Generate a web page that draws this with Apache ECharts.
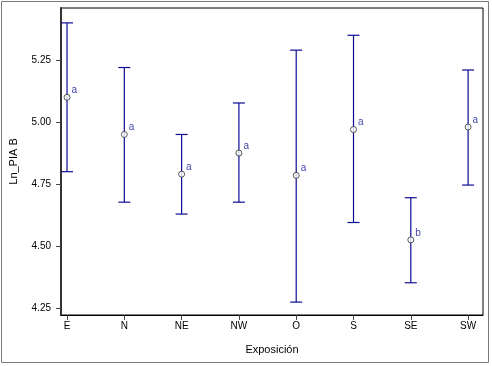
<!DOCTYPE html>
<html>
<head>
<meta charset="utf-8">
<script src="https://cdn.jsdelivr.net/npm/echarts@6/dist/echarts.min.js"></script>
<style>
    html, body {margin: 0; padding: 0; background: #fff;}
    #chart {width: 492px; height: 366px;}
</style>
</head>
<body>
<div id="chart"></div>
<script>
    // categorías y valores
    const categories = ['E', 'N', 'NE', 'NW', 'O', 'S', 'SE', 'SW'];
    const means = [5.10, 4.95, 4.79, 4.875, 4.785, 4.97, 4.525, 4.98];
    const upper = [5.40, 5.22, 4.95, 5.077, 5.29, 5.35, 4.695, 5.21];
    const lower = [4.80, 4.677, 4.629, 4.677, 4.274, 4.595, 4.352, 4.746];
    const groups = ['a', 'a', 'a', 'a', 'a', 'a', 'b', 'a'];
    const yTicks = [4.25, 4.50, 4.75, 5.00, 5.25];

    const blue = '#0c0c96';
    const chart = echarts.init(document.getElementById('chart'));

    const barData = categories.map((c, i) => [i, lower[i], upper[i]]);
    const meanData = categories.map((c, i) => ({value: [i, means[i]], label: {formatter: groups[i]}}));

    chart.setOption({
        animation: false,
        textStyle: {fontFamily: 'Liberation Sans'},
        graphic: [{
            type: 'rect',
            shape: {x: 1.5, y: 1.5, width: 487, height: 361},
            style: {fill: 'none', stroke: '#7a7a7a', lineWidth: 1}
        }],
        grid: {left: 61, top: 8, right: 9, bottom: 51, outerBoundsMode: 'none', show: true, borderColor: '#000', borderWidth: 1},
        xAxis: {
            type: 'value',
            min: -0.105,
            max: 7.26,
            name: 'Exposición',
            nameLocation: 'middle',
            nameGap: 29,
            nameTextStyle: {fontSize: 11, color: '#000'},
            splitLine: {show: false},
            axisLine: {show: true, onZero: false, lineStyle: {color: '#000'}},
            axisTick: {show: true, customValues: categories.map((c, i) => i), length: 5, lineStyle: {color: '#444'}},
            axisLabel: {
                customValues: categories.map((c, i) => i),
                formatter: v => categories[Math.round(v)],
                fontSize: 10, color: '#000', margin: 6
            }
        },
        yAxis: {
            type: 'value',
            min: 4.222,
            max: 5.46,
            name: 'Ln_PIA B',
            nameLocation: 'middle',
            nameGap: 42,
            nameTextStyle: {fontSize: 11, color: '#000'},
            splitLine: {show: false},
            axisLine: {show: true, onZero: false, lineStyle: {color: '#333', width: 2}},
            axisTick: {show: true, customValues: yTicks, length: 5, lineStyle: {color: '#444'}},
            axisLabel: {
                customValues: yTicks,
                formatter: v => v.toFixed(2),
                fontSize: 10, color: '#000', margin: 10
            }
        },
        series: [
            {
                type: 'custom',
                data: barData,
                renderItem: (params, api) => {
                    const x = api.coord([api.value(0), api.value(1)])[0];
                    const yLo = api.coord([api.value(0), api.value(1)])[1];
                    const yHi = api.coord([api.value(0), api.value(2)])[1];
                    const hw = 6;
                    const st = {stroke: blue, lineWidth: 1.2};
                    return {
                        type: 'group',
                        children: [
                            {type: 'line', shape: {x1: x, y1: yHi, x2: x, y2: yLo}, style: st},
                            {type: 'line', shape: {x1: x - hw, y1: yHi, x2: x + hw, y2: yHi}, style: st},
                            {type: 'line', shape: {x1: x - hw, y1: yLo, x2: x + hw, y2: yLo}, style: st}
                        ]
                    };
                }
            },
            {
                type: 'scatter',
                data: meanData,
                symbol: 'circle',
                symbolSize: 6,
                itemStyle: {color: '#fff', borderColor: '#333', borderWidth: 1},
                label: {
                    show: true,
                    position: 'right',
                    distance: 1,
                    offset: [0, -7],
                    color: blue,
                    fontSize: 10
                },
                z: 3
            }
        ]
    });
</script>
</body>
</html>
